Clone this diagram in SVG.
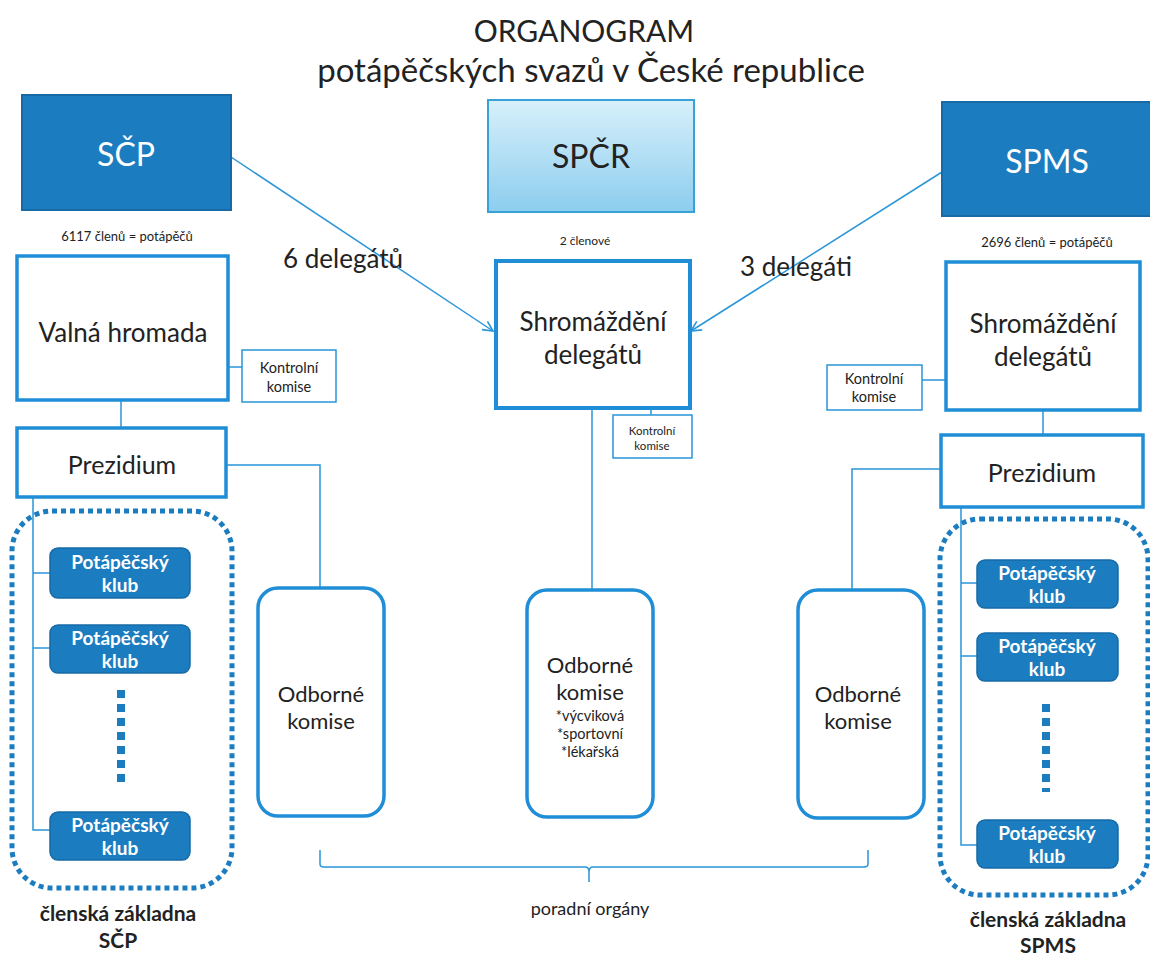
<svg xmlns="http://www.w3.org/2000/svg" width="1150" height="960" viewBox="0 0 1150 960">
<style>
text{font-family:Lato,"Open Sans","Liberation Sans",sans-serif;fill:#222;text-anchor:middle}
.org{fill:#1b7dc0;stroke:#176aa5;stroke-width:2}
.orgt{fill:#fff;font-size:32px}
.box{fill:#fff;stroke:#1f8ed6;stroke-width:3.5}
.small{fill:#fff;stroke:#2a95d8;stroke-width:1.5}
.club{fill:#1b7dc0;stroke:#176aa5;stroke-width:1.5}
.clubt{fill:#fff;font-size:19px;font-weight:bold}
.dots{fill:none;stroke:#1b7dc0;stroke-width:5;stroke-dasharray:5 4}
.vdots{fill:none;stroke:#1b7dc0;stroke-width:8;stroke-dasharray:8 6}
.ln{fill:none;stroke:#2a95d8;stroke-width:1.5}
.note{font-size:13px}
.shr{font-size:26px}
.odb{font-size:22px}
.base{font-size:21px;font-weight:bold}
</style>
<defs>
<linearGradient id="g" x1="0" y1="0" x2="0" y2="1">
<stop offset="0" stop-color="#d8f0fb"/>
<stop offset="1" stop-color="#8ccdee"/>
</linearGradient>
<marker id="arr" viewBox="0 0 12 12" refX="11" refY="6" markerWidth="12" markerHeight="12" markerUnits="userSpaceOnUse" orient="auto">
<path d="M1,1 L11,6 L1,11" fill="none" stroke="#2a95d8" stroke-width="1.6"/>
</marker>
</defs>
<text x="584" y="42" style="font-size:30px">ORGANOGRAM</text>
<text x="591" y="82" style="font-size:33px">potápěčských svazů v České republice</text>

<g id="connectors">
<line class="ln" x1="231" y1="157" x2="493" y2="331" marker-end="url(#arr)"/>
<line class="ln" x1="942" y1="172" x2="691" y2="331" marker-end="url(#arr)"/>
<line class="ln" x1="228" y1="367" x2="242" y2="367"/>
<line class="ln" x1="121" y1="400" x2="121" y2="428"/>
<polyline class="ln" points="226,465 320,465 320,588"/>
<polyline class="ln" points="33,497 33,830 50,830"/>
<line class="ln" x1="33" y1="573" x2="50" y2="573"/>
<line class="ln" x1="33" y1="648" x2="50" y2="648"/>
<line class="ln" x1="651" y1="408" x2="651" y2="415"/>
<line class="ln" x1="592" y1="408" x2="592" y2="590"/>
<line class="ln" x1="922" y1="380" x2="946" y2="380"/>
<line class="ln" x1="1043" y1="410" x2="1043" y2="435"/>
<polyline class="ln" points="941,469 852,469 852,590"/>
<polyline class="ln" points="961,507 961,845 977,845"/>
<line class="ln" x1="961" y1="583" x2="977" y2="583"/>
<line class="ln" x1="961" y1="656" x2="977" y2="656"/>
<path class="ln" d="M320,850 L320,864 Q320,867 324,867 L585,867 Q589,867 589,872 L589,882 M589,872 Q589,867 593,867 L864,867 Q868,867 868,864 L868,850"/>
</g>

<g id="scp">
<rect class="org" x="22" y="95" width="209" height="115"/>
<text class="orgt" x="126" y="166">SČP</text>
<text class="note" x="127" y="241">6117 členů = potápěčů</text>
</g>
<g id="spcr">
<rect x="488" y="100" width="206" height="112" fill="url(#g)" stroke="#3aa0d8" stroke-width="2"/>
<text x="591" y="168" style="font-size:32px">SPČR</text>
<text x="585" y="245" style="font-size:12px">2 členové</text>
</g>
<g id="spms">
<rect class="org" x="942" y="102" width="210" height="114"/>
<text class="orgt" x="1047" y="173">SPMS</text>
<text class="note" x="1047" y="247">2696 členů = potápěčů</text>
</g>

<text x="343" y="268" style="font-size:26px">6 delegátů</text>
<text x="796" y="276" style="font-size:26px">3 delegáti</text>

<g id="valna">
<rect class="box" x="17" y="256" width="211" height="144"/>
<text x="123" y="342" style="font-size:26px">Valná hromada</text>
</g>
<g id="kk-left">
<rect class="small" x="242" y="350" width="94" height="52"/>
<text x="289" y="373" style="font-size:14.5px">Kontrolní</text>
<text x="289" y="392" style="font-size:14.5px">komise</text>
</g>
<g id="prez-left">
<rect class="box" x="17" y="428" width="209" height="69"/>
<text x="122" y="474" style="font-size:25px">Prezidium</text>
</g>
<g id="clubs-left">
<rect class="dots" x="12" y="511" width="220" height="377" rx="40"/>
<rect class="club" x="50" y="548" width="140" height="50" rx="8"/>
<text class="clubt" x="120" y="569">Potápěčský</text><text class="clubt" x="120" y="592">klub</text>
<rect class="club" x="50" y="625" width="140" height="48" rx="8"/>
<text class="clubt" x="120" y="645">Potápěčský</text><text class="clubt" x="120" y="668">klub</text>
<line class="vdots" x1="121" y1="690" x2="121" y2="782"/>
<rect class="club" x="50" y="812" width="140" height="48" rx="8"/>
<text class="clubt" x="120" y="832">Potápěčský</text><text class="clubt" x="120" y="855">klub</text>
<text class="base" x="118" y="921">členská základna</text>
<text class="base" x="118" y="948">SČP</text>
</g>

<g id="shrom-center">
<rect class="box" x="496" y="261" width="194" height="147" style="stroke-width:4"/>
<text class="shr" x="593" y="331">Shromáždění</text>
<text class="shr" x="593" y="364">delegátů</text>
</g>
<g id="kk-center">
<rect class="small" x="613" y="415" width="79" height="43"/>
<text x="652" y="435" style="font-size:11.5px">Kontrolní</text>
<text x="652" y="450" style="font-size:11.5px">komise</text>
</g>

<g id="odb-left">
<rect class="box" x="258" y="588" width="126" height="228" rx="20"/>
<text class="odb" x="321" y="702">Odborné</text>
<text class="odb" x="321" y="729">komise</text>
</g>
<g id="odb-center">
<rect class="box" x="527" y="590" width="126" height="227" rx="20"/>
<text class="odb" x="590" y="673">Odborné</text>
<text class="odb" x="590" y="700">komise</text>
<text x="590" y="721" style="font-size:14.5px">*výcviková</text>
<text x="590" y="739" style="font-size:14.5px">*sportovní</text>
<text x="590" y="757" style="font-size:14.5px">*lékařská</text>
</g>
<g id="odb-right">
<rect class="box" x="798" y="590" width="126" height="228" rx="20"/>
<text class="odb" x="858" y="702">Odborné</text>
<text class="odb" x="858" y="729">komise</text>
</g>

<g id="shrom-right">
<rect class="box" x="946" y="262" width="194" height="148"/>
<text class="shr" x="1043" y="333">Shromáždění</text>
<text class="shr" x="1043" y="366">delegátů</text>
</g>
<g id="kk-right">
<rect class="small" x="827" y="365" width="95" height="45"/>
<text x="874" y="384" style="font-size:14.5px">Kontrolní</text>
<text x="874" y="402" style="font-size:14.5px">komise</text>
</g>
<g id="prez-right">
<rect class="box" x="941" y="435" width="202" height="72"/>
<text x="1042" y="482" style="font-size:25px">Prezidium</text>
</g>
<g id="clubs-right">
<rect class="dots" x="940" y="519" width="208" height="376" rx="40"/>
<rect class="club" x="977" y="560" width="141" height="48" rx="8"/>
<text class="clubt" x="1047" y="580">Potápěčský</text><text class="clubt" x="1047" y="603">klub</text>
<rect class="club" x="977" y="633" width="141" height="48" rx="8"/>
<text class="clubt" x="1047" y="653">Potápěčský</text><text class="clubt" x="1047" y="676">klub</text>
<line class="vdots" x1="1046" y1="704" x2="1046" y2="792"/>
<rect class="club" x="977" y="820" width="141" height="48" rx="8"/>
<text class="clubt" x="1047" y="840">Potápěčský</text><text class="clubt" x="1047" y="863">klub</text>
<text class="base" x="1048" y="927">členská základna</text>
<text class="base" x="1048" y="953">SPMS</text>
</g>

<text x="590" y="915" style="font-size:18px">poradní orgány</text>
</svg>
